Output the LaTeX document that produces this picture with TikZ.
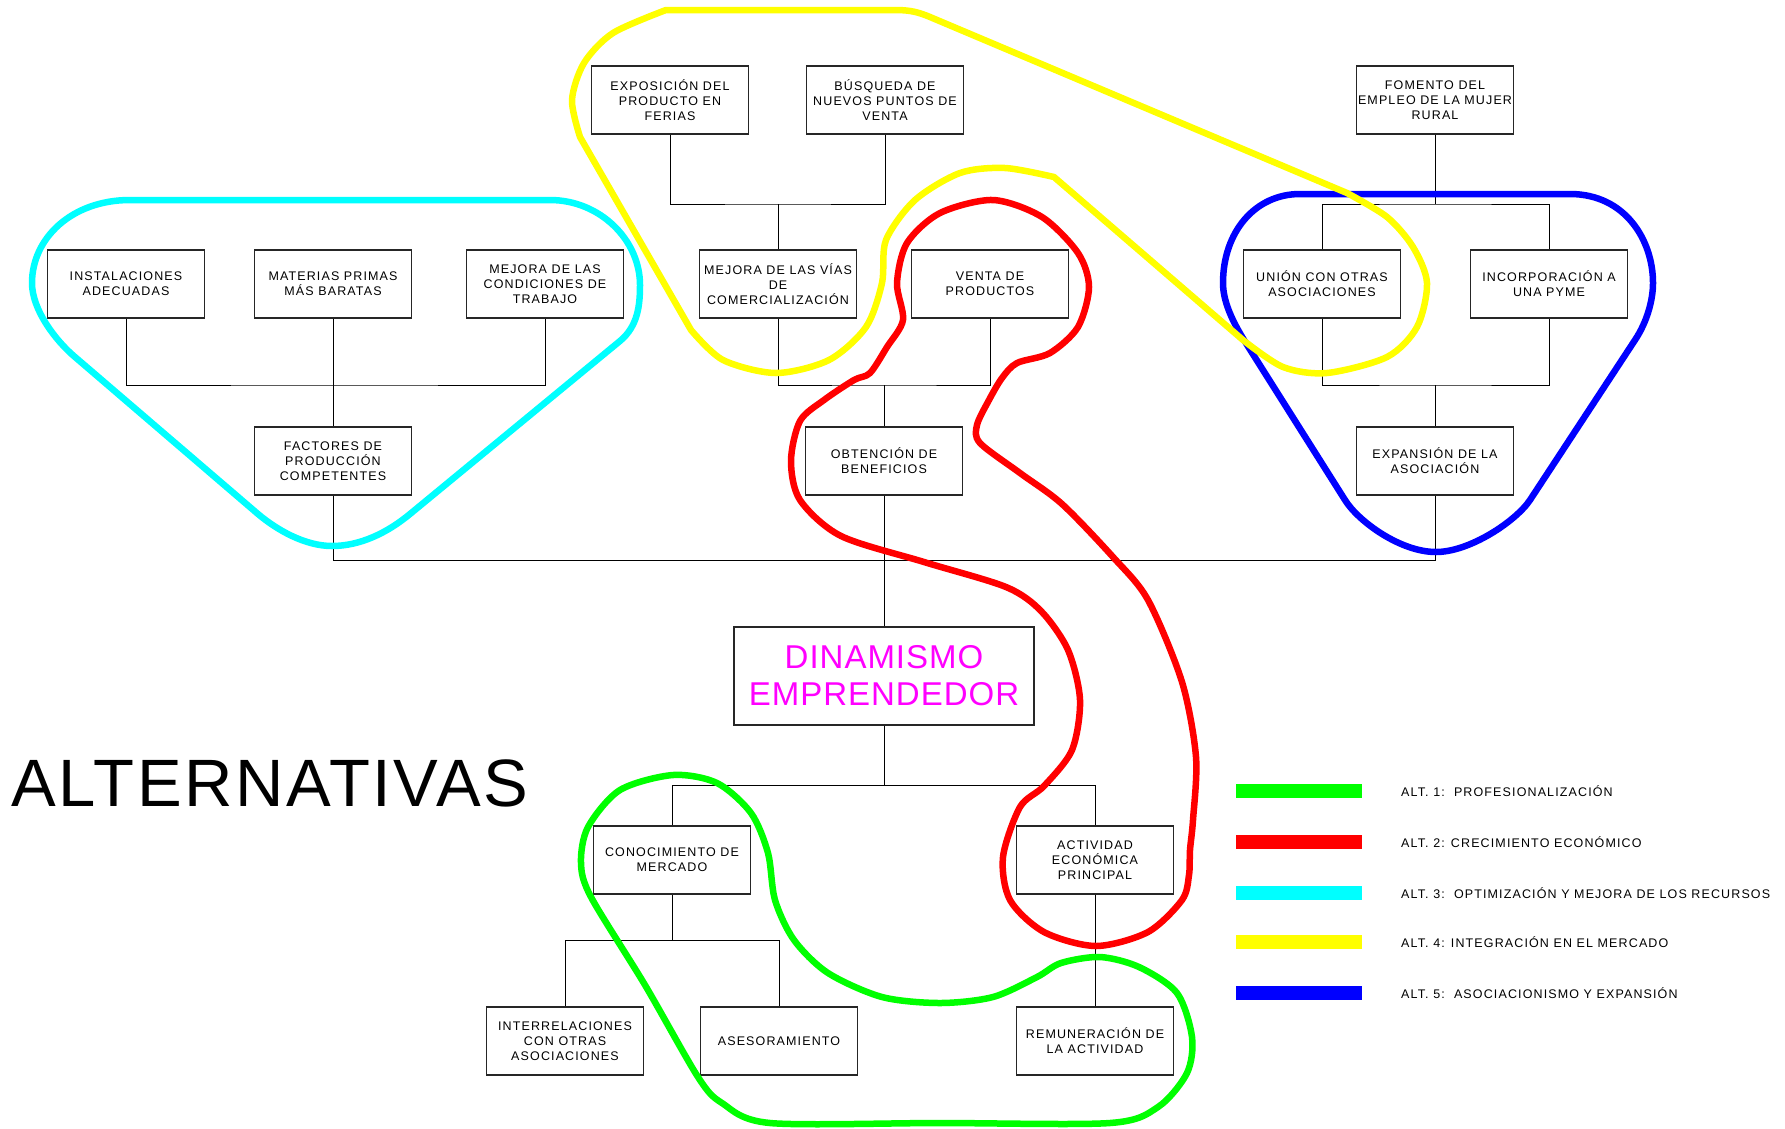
\documentclass[tikz,border=0pt]{standalone}
\usepackage{fontspec}
\setmainfont{Liberation Sans}
\newfontfamily\boxfont[LetterSpace=9]{Liberation Sans}
\newfontfamily\dinfont[LetterSpace=3]{Liberation Sans}
\newfontfamily\legfont[LetterSpace=9]{Liberation Sans}
\newfontfamily\titfont[LetterSpace=4]{Liberation Sans}
\definecolor{altgreen}{RGB}{0,255,0}
\definecolor{altred}{RGB}{255,0,0}
\definecolor{altcyan}{RGB}{0,255,255}
\definecolor{altyellow}{RGB}{255,255,0}
\definecolor{altblue}{RGB}{0,0,255}
\definecolor{dinmagenta}{RGB}{255,0,255}
\begin{document}
\begin{tikzpicture}[x=1pt, y=-1pt,
  box/.style={draw=black!85, line width=1.1pt, fill=white, minimum width=157, minimum height=68,
    inner sep=0pt, align=center, font=\boxfont\fontsize{12.5}{15}\selectfont},
  link/.style={black, line width=1pt},
  alt/.style={line width=6.5pt, line join=round}]
\useasboundingbox (0,0) rectangle (1785,1128);
% boxes
\node[box] (expo) at (670,100) {EXPOSICIÓN DEL\\PRODUCTO EN\\FERIAS};
\node[box] (busq) at (885,100) {BÚSQUEDA DE\\NUEVOS PUNTOS DE\\VENTA};
\node[box] (fomento) at (1435,100) {FOMENTO DEL\\EMPLEO DE LA MUJER\\RURAL};
\node[box] (inst) at (126,284) {INSTALACIONES\\ADECUADAS};
\node[box] (mat) at (333,284) {MATERIAS PRIMAS\\MÁS BARATAS};
\node[box] (condic) at (545,284) {MEJORA DE LAS\\CONDICIONES DE\\TRABAJO};
\node[box] (vias) at (778,284) {MEJORA DE LAS VÍAS\\DE\\COMERCIALIZACIÓN};
\node[box] (venta) at (990,284) {VENTA DE\\PRODUCTOS};
\node[box] (union) at (1322,284) {UNIÓN CON OTRAS\\ASOCIACIONES};
\node[box] (incorp) at (1549,284) {INCORPORACIÓN A\\UNA PYME};
\node[box] (factores) at (333,461) {FACTORES DE\\PRODUCCIÓN\\COMPETENTES};
\node[box] (obtencion) at (884,461) {OBTENCIÓN DE\\BENEFICIOS};
\node[box] (expansion) at (1435,461) {EXPANSIÓN DE LA\\ASOCIACIÓN};
\node[box, minimum width=300, minimum height=98, text=dinmagenta,
  font=\dinfont\fontsize{33}{37}\selectfont] (dinam) at (884,676) {DINAMISMO\\EMPRENDEDOR};
\node[box] (conoc) at (672,860) {CONOCIMIENTO DE\\MERCADO};
\node[box] (activ) at (1095,860) {ACTIVIDAD\\ECONÓMICA\\PRINCIPAL};
\node[box] (interrel) at (565,1041) {INTERRELACIONES\\CON OTRAS\\ASOCIACIONES};
\node[box] (asesor) at (779,1041) {ASESORAMIENTO};
\node[box] (remun) at (1095,1041) {REMUNERACIÓN DE\\LA ACTIVIDAD};
\node[font=\titfont\fontsize{67}{70}\selectfont, anchor=base west, inner sep=0pt] (titulo) at (11,806) {ALTERNATIVAS};
% connectors
\coordinate (jinst) at (333,385);
\draw[link] (inst.south) |- (jinst) -| (condic.south);
\draw[link] (mat.south) -- (factores.north);
\coordinate (jexpo) at (778,204);
\draw[link] (expo.south) |- (jexpo) -| (busq.south);
\draw[link] (jexpo) -- (vias.north);
\coordinate (jvias) at (884,385);
\draw[link] (vias.south) |- (jvias) -| (venta.south);
\draw[link] (jvias) -- (obtencion.north);
\draw[link] (obtencion.south) -- (dinam.north);
\coordinate (jfom) at (1435,204);
\draw[link] (fomento.south) -- (jfom);
\draw[link] (union.north) |- (jfom) -| (incorp.north);
\coordinate (junion) at (1435,385);
\draw[link] (union.south) |- (junion) -| (incorp.south);
\draw[link] (junion) -- (expansion.north);
\coordinate (jmain) at (884,560);
\draw[link] (factores.south) |- (jmain) -| (expansion.south);
\coordinate (jdin) at (884,785);
\draw[link] (dinam.south) -- (jdin);
\draw[link] (conoc.north) |- (jdin) -| (activ.north);
\coordinate (jconoc) at (672,940);
\draw[link] (conoc.south) -- (jconoc);
\draw[link] (interrel.north) |- (jconoc) -| (asesor.north);
\draw[link] (activ.south) -- (remun.north);
% Alt 3: cyan
\draw[alt, altcyan] (130,200) -- (550,200) .. controls (600,200) and (640,240) .. (640,285)
  .. controls (640,305) and (638,326) .. (620,341) -- (410,514)
  .. controls (387,533) and (360,546) .. (332,546) .. controls (305,546) and (277,530) .. (258,514)
  -- (75,357) .. controls (56,341) and (32,310) .. (32,283)
  .. controls (32,238) and (72,200) .. (130,200) -- cycle;
% Alt 5: blue
\draw[alt, altblue] (1300,194) -- (1570,194) .. controls (1625,194) and (1653,240) .. (1653,283)
  .. controls (1653,300) and (1647,322) .. (1635,340) -- (1530,500)
  .. controls (1516,521) and (1470,552) .. (1436,552) .. controls (1400,552) and (1358,521) .. (1345,500)
  -- (1244,340) .. controls (1231,319) and (1223,300) .. (1223,283)
  .. controls (1223,232) and (1255,194) .. (1300,194) -- cycle;
% Alt 4: yellow
\draw[alt, altyellow] (666,10) -- (895,10) .. controls (910,10) and (918,12) .. (930,17) -- (1347,193)
  -- plot[smooth, tension=0.5] coordinates {(1347,193) (1387,217) (1413,247) (1427,283) (1417,327)
    (1387,357) (1327,373) (1283,367) (1243,340)}
  -- (1054,177)
  -- plot[smooth, tension=0.5] coordinates {(1054,177) (1005,168) (960,173) (915,200) (886,240)
    (882,283) (866,327) (829,360) (776,373) (723,360) (691,330)}
  -- (580,137)
  -- plot[smooth, tension=0.5] coordinates {(580,137) (572,100) (584,63) (613,33) (666,10)} -- cycle;
% Alt 2: red
\draw[alt, altred] plot[smooth cycle, tension=0.5] coordinates {
  (993,200) (1042,217) (1078,253) (1089,287) (1078,327) (1050,353) (1017,363) (1002,378)
  (989,400) (977,425) (980,443) (1020,473) (1062,504) (1113,557) (1148,600) (1182,682)
  (1196,757) (1193,820) (1190,850) (1189,875) (1182,900) (1148,932) (1096,946) (1044,932)
  (1010,900) (1003,857) (1020,807) (1044,786) (1072,750) (1080,700) (1068,650) (1041,611)
  (1006,587) (924,562) (841,536) (800,500) (791,461) (800,421) (824,400) (854,380)
  (870,373) (887,347) (903,320) (897,283) (907,243) (940,213)};
% Alt 1: green
\draw[alt, altgreen] plot[smooth cycle, tension=0.5] coordinates {
  (673,775) (717,783) (751,813) (768,853) (775,900) (794,940) (828,973) (882,997)
  (940,1003) (993,997) (1037,977) (1061,963) (1100,957) (1139,967) (1177,993) (1192,1037)
  (1187,1073) (1158,1107) (1110,1123) (940,1123) (770,1123) (722,1103) (698,1077)
  (645,985) (591,897) (581,863) (588,827) (620,790)};
% legend
\foreach \col/\y/\txt [count=\i] in {
  altgreen/791/{ALT. 1:\ \ PROFESIONALIZACIÓN},
  altred/842/{ALT. 2: CRECIMIENTO ECONÓMICO},
  altcyan/893/{ALT. 3:\ \ OPTIMIZACIÓN Y MEJORA DE LOS RECURSOS},
  altyellow/942/{ALT. 4: INTEGRACIÓN EN EL MERCADO},
  altblue/993/{ALT. 5:\ \ ASOCIACIONISMO Y EXPANSIÓN}} {
  \fill[\col] (1236,\y-7) rectangle (1362,\y+7);
  \node[anchor=west, inner sep=0pt, font=\legfont\fontsize{12.5}{15}\selectfont] (leg\i) at (1401,\y) {\txt};
}
\end{tikzpicture}
\end{document}
